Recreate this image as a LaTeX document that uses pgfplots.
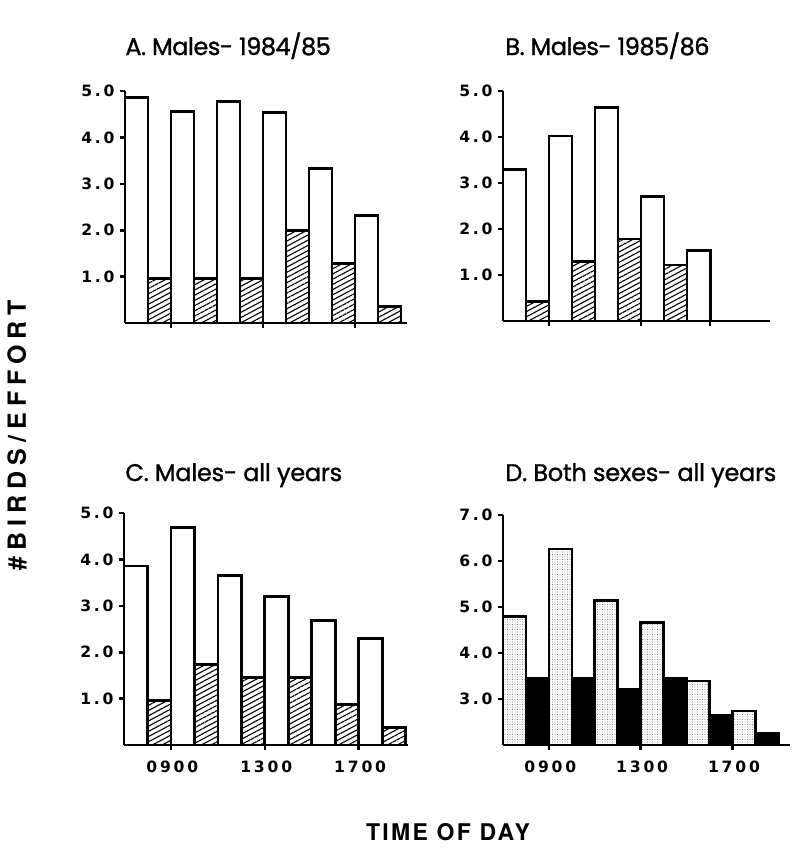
\documentclass[border=0pt]{standalone}
\usepackage{fontspec}
\setmainfont{TeX Gyre Heros}
\usepackage{pgfplots}
\usepackage{pgfplotstable}
\pgfplotsset{compat=1.18}
\usetikzlibrary{patterns.meta}
\newfontfamily\tickfont[LetterSpace=18]{DejaVu Sans Bold}
\newfontfamily\ylabfont[LetterSpace=24]{TeX Gyre Heros Bold}
\newfontfamily\xlabfont[LetterSpace=10]{TeX Gyre Heros Bold}
\newfontfamily\titfontA[LetterSpace=-2, FakeBold=1.2]{Poppins}
\newfontfamily\titfontC[LetterSpace=-1, FakeBold=1.2]{Poppins}

\pgfplotstableread{
x y
7.5 4.86
9.5 4.56
11.5 4.77
13.5 4.54
15.5 3.33
17.5 2.32
}\Aopen
\pgfplotstableread{
x y
8.5 0.96
10.5 0.96
12.5 0.96
14.5 2.00
16.5 1.28
18.5 0.35
}\Ahatch
\pgfplotstableread{
x y
7.5 3.30
9.5 4.02
11.5 4.64
13.5 2.70
15.5 1.53
}\Bopen
\pgfplotstableread{
x y
8.5 0.43
10.5 1.30
12.5 1.78
14.5 1.22
}\Bhatch
\pgfplotstableread{
x y
7.5 3.86
9.5 4.69
11.5 3.65
13.5 3.20
15.5 2.68
17.5 2.29
}\Copen
\pgfplotstableread{
x y
8.5 0.96
10.5 1.73
12.5 1.45
14.5 1.45
16.5 0.87
18.5 0.37
}\Chatch
\pgfplotstableread{
x y
7.5 4.80
9.5 6.26
11.5 5.14
13.5 4.67
15.5 3.39
17.5 2.74
}\Ddots
\pgfplotstableread{
x y
8.5 3.46
10.5 3.45
12.5 3.20
14.5 3.45
16.5 2.64
18.5 2.25
}\Dblack

\pgfplotsset{
  panel/.style={
    scale only axis, axis lines=left, axis line style={-, line width=1.35pt},
    tick align=outside, major tick length=2.5pt,
    tick style={line width=1.3pt, black},
    xmin=7, ymin=0, ymax=5,
    ytick={1,2,3,4,5}, yticklabels={1.0,2.0,3.0,4.0,5.0},
    xtick={9,13,17}, xticklabels={},
    tick label style={font=\tickfont\fontsize{7.8}{9}\selectfont},
    yticklabel style={xshift=0.8pt},
    xticklabel style={yshift=-2pt, xshift=0.7pt},
    anchor=south west,
  },
  bar/.style={ybar, bar width=1, bar shift=0pt},
  openbar/.style={bar, draw=none, fill=white},
  hatchbar/.style={bar, draw=none,
    pattern={Lines[angle=28, distance=2.3pt, line width=0.55pt]}},
  dotbar/.style={bar, draw=none, fill=white,
    postaction={pattern={Dots[distance=1.25pt, radius=0.24pt]}, pattern color=black!80}},
  blackbar/.style={bar, draw=none, fill=black},
  outline/.style={bar, draw=black, fill=none, line width=1.35pt},
}

\begin{document}
\begin{tikzpicture}
\path[use as bounding box] (0,0) rectangle (404.5pt,-426pt);

% Panel A
\begin{axis}[panel, at={(62.5pt,-161.5pt)}, width=141pt, height=116pt, xmax=19.26]
\addplot[openbar] table {\Aopen};
\addplot[hatchbar] table {\Ahatch};
\addplot[outline] table {\Aopen};
\addplot[outline] table {\Ahatch};
\end{axis}

% Panel B
\begin{axis}[panel, at={(251.5pt,-160.5pt)}, width=133.5pt, height=115pt, xmax=18.6, xtick={9,13,16}]
\addplot[openbar] table {\Bopen};
\addplot[hatchbar] table {\Bhatch};
\addplot[outline] table {\Bopen};
\addplot[outline] table {\Bhatch};
\end{axis}

% Panel C
\begin{axis}[panel, at={(62pt,-372.5pt)}, width=142pt, height=116pt, xmax=19.1,
  xticklabels={0900,1300,1700}]
\addplot[openbar] table {\Copen};
\addplot[hatchbar] table {\Chatch};
\addplot[outline] table {\Copen};
\addplot[outline] table {\Chatch};
\end{axis}

% Panel D
\begin{axis}[panel, at={(251.5pt,-372.5pt)}, width=143.5pt, height=115pt, xmax=19.5,
  ymin=2, ymax=7, ytick={3,4,5,6,7}, yticklabels={3.0,4.0,5.0,6.0,7.0},
  xticklabels={0900,1300,1700}]
\addplot[dotbar] table {\Ddots};
\addplot[blackbar] table {\Dblack};
\addplot[outline] table {\Ddots};
\addplot[outline] table {\Dblack};
\end{axis}

% Titles
\tikzset{ttl/.style={anchor=base west, inner sep=0pt}}
\node[ttl, font=\titfontA\fontsize{12}{14}\selectfont] at (62.5pt,-27.5pt) {A. Males- 1984/85};
\node[ttl, font=\titfontA\fontsize{12}{14}\selectfont] at (252.5pt,-27.5pt) {B. Males- 1985/86};
\node[ttl, font=\titfontC\fontsize{12}{14}\selectfont] at (62.5pt,-240.5pt) {C. Males- all years};
\node[ttl, font=\titfontC\fontsize{12}{14}\selectfont] at (252.5pt,-240.5pt) {D. Both sexes- all years};

% Axis labels
\node[rotate=90, anchor=center, inner sep=0pt, font=\ylabfont\fontsize{12.5}{14}\selectfont] at (8.5pt,-217.5pt) {\#BIRDS/EFFORT};
\node[anchor=base, inner sep=0pt, font=\xlabfont\fontsize{11.5}{13}\selectfont] at (224pt,-420pt) {TIME OF DAY};
\end{tikzpicture}
\end{document}
